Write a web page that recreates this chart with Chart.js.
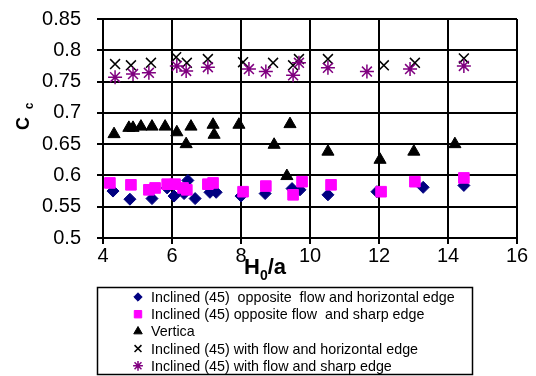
<!DOCTYPE html>
<html>
<head>
<meta charset="utf-8">
<script src="https://cdn.jsdelivr.net/npm/chart.js@4.4.0/dist/chart.umd.min.js"></script>
<style>
  html, body { margin: 0; padding: 0; background: #fff; }
  canvas { display: block; }
</style>
</head>
<body>
<canvas id="chart" width="536" height="376"></canvas>
<script>
// tick values
const xTicks = [4, 6, 8, 10, 12, 14, 16];
const yTicks = [0.5, 0.55, 0.6, 0.65, 0.7, 0.75, 0.8, 0.85];

// series
const labels = [
    'Inclined (45)  opposite  flow and horizontal edge',
    'Inclined (45) opposite flow  and sharp edge',
    'Vertica',
    'Inclined (45) with flow and horizontal edge',
    'Inclined (45) with flow and sharp edge'
];

const diamondX = [4.29, 4.78, 5.42, 5.86, 6.06, 6.35, 6.46, 6.67, 7.1, 7.28, 8.0, 8.7, 9.48, 9.71, 10.52, 11.94, 13.28, 14.46];
const diamondY = [0.575, 0.562, 0.563, 0.58, 0.567, 0.571, 0.592, 0.563, 0.573, 0.573, 0.567, 0.571, 0.579, 0.577, 0.569, 0.574, 0.581, 0.584];

const squareX = [4.2, 4.81, 5.33, 5.51, 5.86, 6.09, 6.32, 6.43, 7.04, 7.19, 8.06, 8.72, 9.51, 9.77, 10.61, 12.06, 13.04, 14.46];
const squareY = [0.588, 0.585, 0.577, 0.58, 0.586, 0.586, 0.58, 0.577, 0.586, 0.588, 0.574, 0.583, 0.569, 0.59, 0.585, 0.574, 0.59, 0.596];

const triX = [4.32, 4.75, 4.87, 5.1, 5.42, 5.8, 6.14, 6.41, 6.55, 7.19, 7.22, 7.94, 8.96, 9.33, 9.42, 10.52, 12.03, 13.01, 14.2];
const triY = [0.666, 0.676, 0.676, 0.678, 0.678, 0.678, 0.669, 0.65, 0.678, 0.681, 0.665, 0.681, 0.649, 0.599, 0.682, 0.638, 0.625, 0.638, 0.65];

const crossX = [4.35, 4.81, 5.39, 6.12, 6.43, 7.04, 8.06, 8.93, 9.51, 9.68, 10.52, 12.14, 13.04, 14.46];
const crossY = [0.778, 0.776, 0.78, 0.789, 0.78, 0.786, 0.781, 0.78, 0.776, 0.786, 0.786, 0.776, 0.78, 0.787];

const starX = [4.35, 4.87, 5.33, 6.14, 6.41, 7.04, 8.23, 8.72, 9.51, 9.68, 10.52, 11.65, 12.9, 14.46];
const starY = [0.757, 0.762, 0.764, 0.775, 0.767, 0.773, 0.77, 0.766, 0.76, 0.78, 0.772, 0.766, 0.77, 0.775];

const FONT = '"Liberation Sans", Arial, sans-serif';

function pts(xs, ys) { return xs.map((x, i) => ({ x: x, y: ys[i] })); }

function series(i, xs, ys, style, color, radius, bw) {
    return {
        label: labels[i], data: pts(xs, ys), order: 5 - i,
        pointStyle: style, pointRadius: radius, pointHoverRadius: radius,
        backgroundColor: color, borderColor: color, pointBorderWidth: bw, showLine: false
    };
}

// titles with subscripts + boxed legend
const extras = {
    id: 'extras',
    afterDraw(chart) {
        const ctx = chart.ctx;
        ctx.save();
        ctx.fillStyle = '#000';
        ctx.textBaseline = 'alphabetic';
        ctx.textAlign = 'left';

        // x title: H0/a
        let x = 244, y = 274;
        ctx.font = 'bold 22px ' + FONT;
        ctx.fillText('H', x, y); x += ctx.measureText('H').width;
        ctx.font = 'bold 14px ' + FONT;
        ctx.fillText('0', x, y + 6); x += ctx.measureText('0').width;
        ctx.font = 'bold 22px ' + FONT;
        ctx.fillText('/a', x, y);

        // y title: Cc rotated
        ctx.save();
        ctx.translate(29, 130);
        ctx.rotate(-Math.PI / 2);
        ctx.font = 'bold 18px ' + FONT;
        ctx.fillText('C', 0, 0);
        ctx.font = 'bold 12px ' + FONT;
        ctx.fillText('c', ctx.measureText('C').width + 12, 4);
        ctx.restore();

        // legend box
        ctx.strokeStyle = '#000';
        ctx.lineWidth = 1.5;
        ctx.strokeRect(97.5, 287.5, 375, 87);
        ctx.font = '14.3px ' + FONT;
        ctx.textBaseline = 'middle';
        chart.data.datasets.forEach((ds, i) => {
            const cy = 297 + i * 17.2;
            ctx.fillStyle = ds.backgroundColor;
            ctx.strokeStyle = ds.borderColor;
            ctx.lineWidth = ds.pointBorderWidth;
            Chart.helpers.drawPoint(ctx, {
                pointStyle: ds.pointStyle, radius: ds.pointRadius * 0.7,
                rotation: 0, borderWidth: ds.pointBorderWidth
            }, 138, cy);
            ctx.fillStyle = '#000';
            ctx.fillText(ds.label, 151, cy + 1);
        });
        ctx.restore();
    }
};

new Chart(document.getElementById('chart'), {
    type: 'scatter',
    data: {
        datasets: [
            series(0, diamondX, diamondY, 'rectRot', '#000080', 6, 1),
            series(1, squareX, squareY, 'rect', '#ff00ff', 7.5, 1),
            series(2, triX, triY, 'triangle', '#000000', 7, 1),
            series(3, crossX, crossY, 'crossRot', '#000000', 7, 1.5),
            series(4, starX, starY, 'star', '#800080', 7, 1.5)
        ]
    },
    options: {
        responsive: false,
        devicePixelRatio: 1,
        animation: false,
        layout: { padding: { top: 19, right: 19, left: 0, bottom: 0 } },
        plugins: { legend: { display: false }, tooltip: { enabled: false } },
        scales: {
            x: {
                type: 'linear', min: 4, max: 16,
                afterBuildTicks: s => { s.ticks = xTicks.map(v => ({ value: v })); },
                afterFit: s => { s.height = 138; s.paddingLeft = 0; s.paddingRight = 0; },
                grid: { color: '#000', lineWidth: 2, tickLength: 6 },
                border: { color: '#000', width: 2 },
                ticks: { color: '#000', font: { size: 20, family: FONT }, padding: 0, maxRotation: 0 }
            },
            y: {
                min: 0.5, max: 0.85,
                afterBuildTicks: s => { s.ticks = yTicks.map(v => ({ value: v })); },
                afterFit: s => { s.width = 103; s.paddingTop = 0; s.paddingBottom = 0; },
                grid: { color: '#000', lineWidth: 2, tickLength: 6 },
                border: { color: '#000', width: 2 },
                ticks: {
                    color: '#000', font: { size: 20, family: FONT }, padding: 16,
                    callback: v => String(parseFloat(v.toFixed(2)))
                }
            }
        }
    },
    plugins: [extras]
});
</script>
</body>
</html>
